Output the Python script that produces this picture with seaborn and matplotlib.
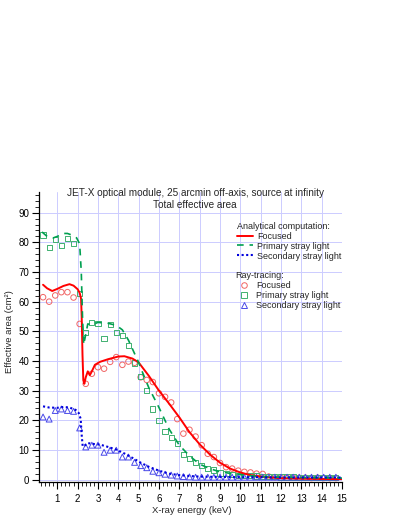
import matplotlib
matplotlib.use("Agg")
import pandas as pd
import seaborn as sns
import matplotlib.pyplot as plt
from matplotlib.lines import Line2D
from matplotlib.ticker import MultipleLocator

# Analytical computation (curves)
focused_e = [0.3, 0.5, 0.75, 1.0, 1.3, 1.6, 1.8, 2.0, 2.1, 2.17,
             2.2, 2.24, 2.28, 2.33, 2.4, 2.5, 2.6, 2.7, 2.85, 3.1,
             3.5, 4.0, 4.3, 4.7, 5.0, 5.5, 6.0, 6.5, 7.0, 7.5,
             8.0, 8.5, 9.0, 9.5, 10.0, 10.5, 11.0, 11.5, 12.0, 13.0,
             14.0, 15.0]
focused_a = [65.7, 64.5, 63.6, 64.3, 65.3, 65.9, 65.4, 64.2, 63.0, 61.0,
             55.0, 42.0, 33.5, 32.3, 34.5, 36.5, 35.2, 36.5, 38.7, 39.7,
             40.6, 41.5, 41.6, 40.8, 39.5, 35.0, 30.0, 25.6, 21.0, 16.0,
             11.9, 8.5, 5.7, 3.7, 2.4, 1.5, 1.0, 0.7, 0.5, 0.3,
             0.2, 0.15]

primary_e = [0.25, 0.5, 0.8, 1.0, 1.3, 1.5, 1.7, 1.95, 2.1, 2.18,
             2.24, 2.3, 2.4, 2.5, 2.7, 3.0, 3.5, 3.9, 4.2, 4.5,
             4.8, 5.0, 5.2, 5.5, 6.0, 6.5, 7.0, 7.5, 8.0, 8.5,
             9.0, 9.5, 10.0, 10.5, 11.0, 12.0, 13.0, 14.0, 15.0]
primary_a = [83.5, 82.0, 81.5, 82.0, 83.0, 83.0, 82.5, 81.5, 79.5, 70.0,
             55.0, 45.5, 49.0, 52.5, 52.2, 53.0, 52.7, 52.0, 50.5, 47.0,
             42.5, 39.5, 36.0, 31.0, 24.3, 17.0, 11.6, 8.0, 5.2, 3.7,
             2.6, 2.1, 1.7, 1.3, 1.0, 0.8, 0.7, 0.6, 0.5]

secondary_e = [0.3, 0.6, 1.0, 1.3, 1.6, 1.9, 2.05, 2.15, 2.2, 2.25,
               2.35, 2.5, 2.8, 3.1, 3.5, 3.9, 4.3, 4.7, 5.1, 5.5,
               6.0, 6.5, 7.0, 7.5, 8.0, 9.0, 10.0, 11.0, 12.0, 13.0,
               14.0, 15.0]
secondary_a = [24.7, 24.3, 24.2, 24.5, 24.3, 23.5, 22.5, 20.5, 15.0, 11.2,
               11.5, 12.3, 12.0, 11.8, 11.0, 10.1, 8.8, 7.3, 5.7, 4.3,
               3.0, 2.0, 1.5, 1.2, 1.0, 0.9, 0.8, 0.8, 0.7, 0.7,
               0.7, 0.7]

# Ray-tracing (points)
rt_energy = [0.3, 0.6, 0.9, 1.2, 1.5, 1.8, 2.1, 2.4, 2.7, 3.0,
             3.3, 3.6, 3.9, 4.2, 4.5, 4.8, 5.1, 5.4, 5.7, 6.0,
             6.3, 6.6, 6.9, 7.2, 7.5, 7.8, 8.1, 8.4, 8.7, 9.0,
             9.3, 9.6, 9.9, 10.2, 10.5, 10.8, 11.1, 11.4, 11.7, 12.0,
             12.3, 12.6, 12.9, 13.2, 13.5, 13.8, 14.1, 14.4, 14.7]
rt_focused = [61.5, 60.0, 62.1, 63.2, 63.2, 61.4, 52.5, 32.3, 35.7, 37.9,
              37.4, 39.7, 41.3, 38.7, 39.8, 39.4, 34.5, 33.6, 32.9, 29.1,
              27.9, 26.0, 20.4, 15.5, 16.8, 14.5, 11.6, 8.7, 7.6, 5.6,
              4.2, 3.7, 3.0, 2.6, 2.4, 2.0, 1.9, 1.0, 0.8, 0.7,
              0.6, 0.7, 0.6, 0.6, 0.5, 0.6, 0.5, 0.5, 0.5]
rt_primary = [82.5, 78.2, 81.0, 79.0, 81.4, 79.7, 62.8, 49.5, 52.9, 52.6,
              47.5, 52.4, 49.6, 48.5, 45.3, 39.3, 34.8, 30.1, 23.8, 19.8,
              16.3, 14.2, 12.1, 8.5, 7.0, 5.8, 4.7, 3.6, 3.2, 2.2,
              2.0, 1.7, 1.5, 1.4, 1.3, 1.2, 1.1, 1.0, 1.0, 0.9,
              0.9, 0.9, 0.8, 0.8, 0.8, 0.8, 0.8, 0.7, 0.7]
rt_secondary = [21.1, 20.4, 23.3, 23.8, 23.3, 23.0, 17.4, 11.0, 11.6, 11.6,
                9.2, 9.9, 9.9, 7.6, 7.6, 5.8, 4.7, 4.0, 2.8, 2.3,
                1.8, 1.5, 1.2, 1.0, 0.9, 0.8, 0.8, 0.8, 0.8, 0.8,
                0.8, 0.8, 0.8, 0.8, 0.8, 0.8, 0.8, 0.8, 0.8, 0.8,
                0.8, 0.8, 0.8, 0.8, 0.8, 0.8, 0.8, 0.8, 0.8]

line_labels = ["Focused", "Primary stray light", "Secondary stray light"]
FS = 6.5

sns.set_theme(style="ticks")
plt.rcParams["font.family"] = ["Liberation Sans", "DejaVu Sans"]

fig = plt.figure(figsize=(3.99, 5.16), dpi=100)
ax = fig.add_axes([0.0977, 0.066, 0.7594, 0.562])

# ray-tracing markers
sns.scatterplot(x=rt_energy, y=rt_focused, ax=ax, marker="o", s=16,
                facecolor="none", edgecolor="#f06464", linewidth=0.7, zorder=3)
sns.scatterplot(x=rt_energy, y=rt_primary, ax=ax, marker="s", s=14,
                facecolor="none", edgecolor="#40b070", linewidth=0.7, zorder=3)
sns.scatterplot(x=rt_energy, y=rt_secondary, ax=ax, marker="^", s=18,
                facecolor="none", edgecolor="#4848e8", linewidth=0.7, zorder=3)

# analytical curves
sns.lineplot(x=focused_e, y=focused_a, ax=ax, color="#ff0000", lw=1.4,
             sort=False, estimator=None, zorder=4)
sns.lineplot(x=primary_e, y=primary_a, ax=ax, color="#00a050", lw=1.2,
             sort=False, estimator=None, zorder=4, dashes=False,
             linestyle=(0, (4, 3.5)))
sns.lineplot(x=secondary_e, y=secondary_a, ax=ax, color="#0000dd", lw=1.5,
             sort=False, estimator=None, zorder=5, dashes=False,
             linestyle=(0, (1, 1.2)))

ax.set_xlim(0.1, 15)
ax.set_ylim(-0.8, 97)
ax.xaxis.set_major_locator(MultipleLocator(1))
ax.xaxis.set_minor_locator(MultipleLocator(0.2))
ax.yaxis.set_major_locator(MultipleLocator(10))
ax.yaxis.set_minor_locator(MultipleLocator(2))
ax.tick_params(which="major", direction="out", length=5, width=0.8,
               labelsize=7, colors="black")
ax.tick_params(which="minor", direction="out", length=3, width=0.7)
ax.tick_params(axis="x", pad=3.5)
ax.tick_params(axis="y", pad=2)
ax.grid(True, which="major", color="#ccccff", lw=0.7)
ax.set_axisbelow(True)
sns.despine(ax=ax)
for side in ["left", "bottom"]:
    ax.spines[side].set_color("black")
    ax.spines[side].set_linewidth(0.9)

ax.set_xlabel("X-ray energy (keV)", fontsize=6.8)
ax.set_ylabel("Effective area (cm²)", fontsize=6.8)
ax.xaxis.set_label_coords(0.505, -0.083)
ax.yaxis.set_label_coords(-0.082, 0.517)

ax.text(0.515, 0.995, "JET-X optical module, 25 arcmin off-axis, source at infinity",
        transform=ax.transAxes, ha="center", va="center", fontsize=7.2)
ax.text(0.515, 0.954, "Total effective area",
        transform=ax.transAxes, ha="center", va="center", fontsize=7.2)

# legends
line_handles = [
    Line2D([], [], color="#ff0000", lw=1.4),
    Line2D([], [], color="#00a050", lw=1.2, linestyle=(0, (4, 3.5))),
    Line2D([], [], color="#0000dd", lw=1.5, linestyle=(0, (1, 1.2))),
]
marker_handles = [
    Line2D([], [], ls="", marker="o", ms=4, mfc="none", mec="#f06464", mew=0.7),
    Line2D([], [], ls="", marker="s", ms=3.8, mfc="none", mec="#40b070", mew=0.7),
    Line2D([], [], ls="", marker="^", ms=4.2, mfc="none", mec="#4848e8", mew=0.7),
]
common = dict(frameon=False, fontsize=FS, title_fontsize=FS, handlelength=1.85,
              handletextpad=0.45, labelspacing=0.1, borderpad=0,
              borderaxespad=0, loc="upper left", alignment="left")
leg1 = ax.legend(line_handles, line_labels, title="Analytical computation:",
                 bbox_to_anchor=(0.652, 0.897), **common)
ax.add_artist(leg1)
ax.legend(marker_handles, line_labels, title="Ray-tracing:",
          bbox_to_anchor=(0.648, 0.726), **common)

fig.savefig("out.png", dpi=100)
